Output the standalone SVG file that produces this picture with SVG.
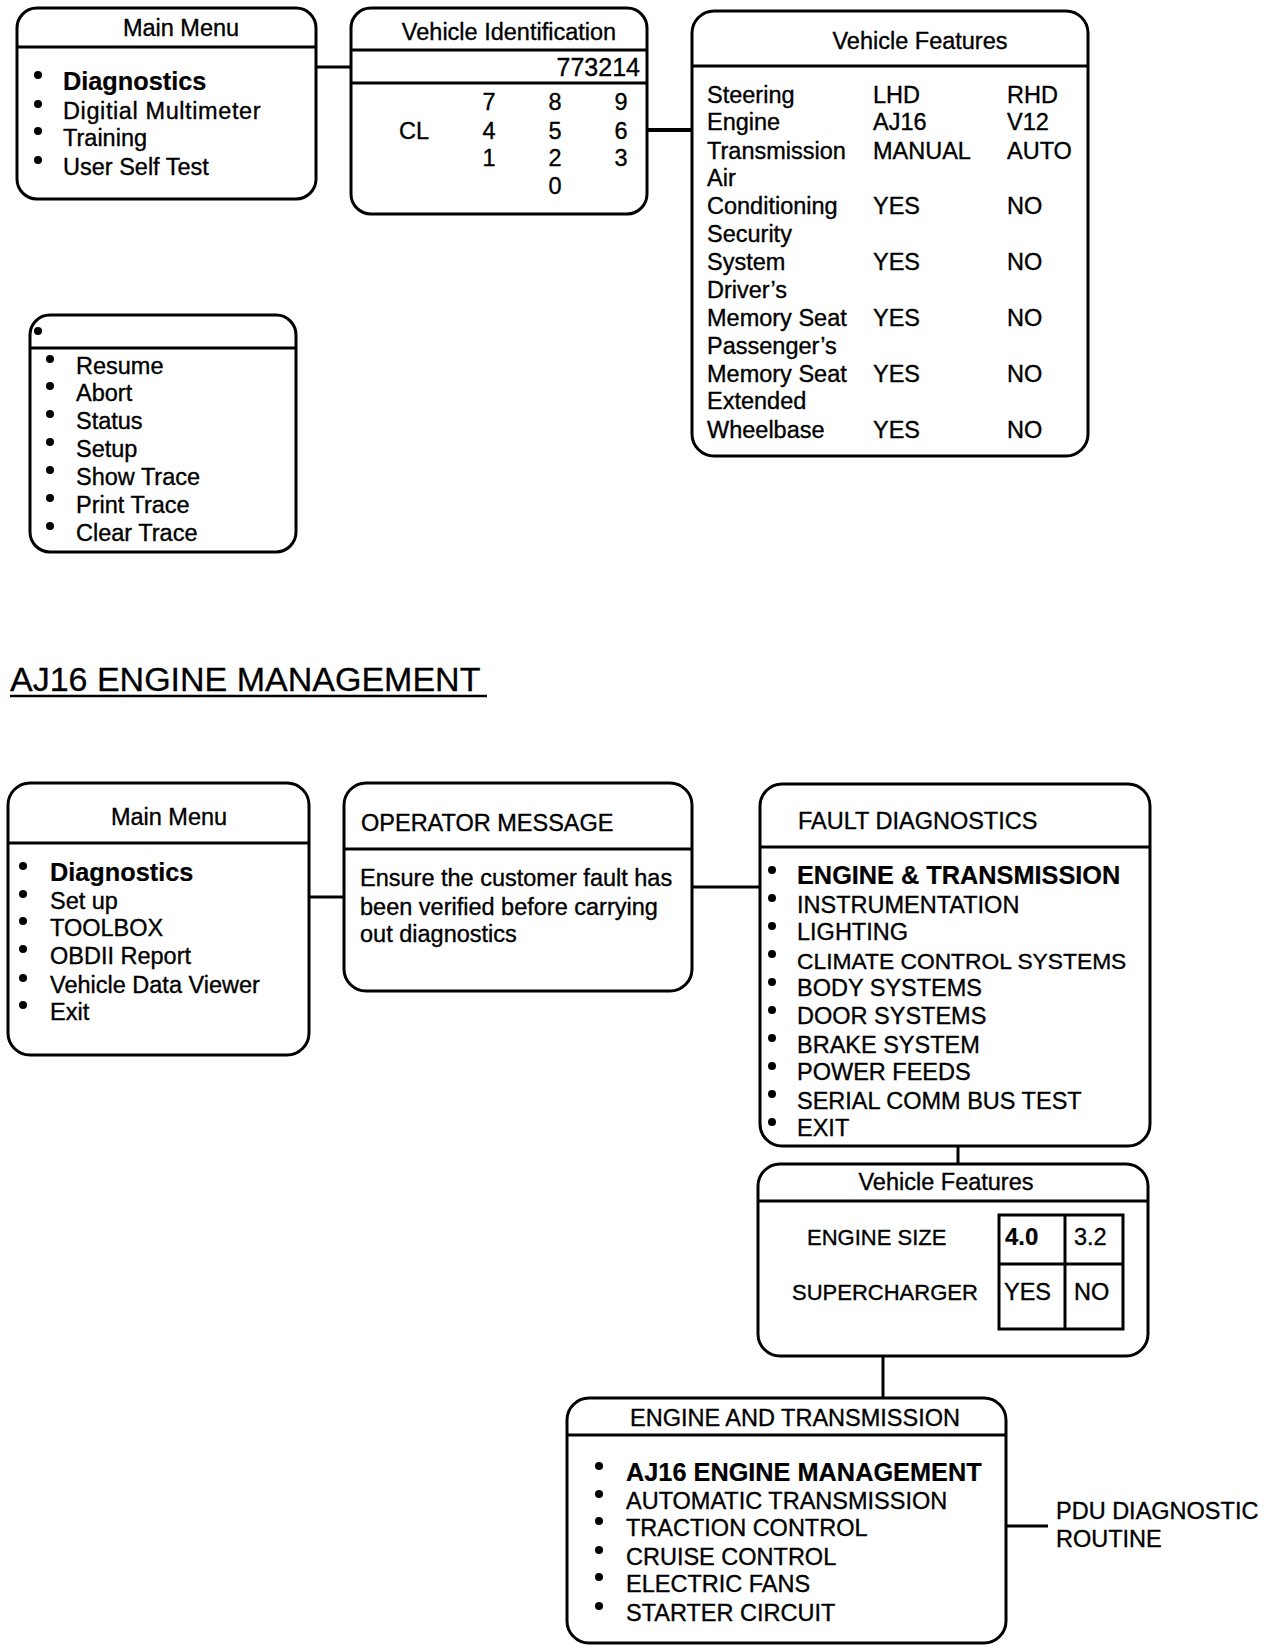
<svg xmlns="http://www.w3.org/2000/svg" width="1264" height="1652" viewBox="0 0 1264 1652">
<style>
.box{fill:#fff;stroke:#000;stroke-width:3}
.div{stroke:#000;stroke-width:3}
.con{stroke:#000;stroke-width:3;fill:none}
text{font-family:"Liberation Sans",Arial,sans-serif;font-size:23.5px;fill:#000;stroke:#000;stroke-width:0.35}
.b{font-weight:bold;font-size:25.3px;stroke-width:0.2}
.c{text-anchor:middle}
.e{text-anchor:end}
.big{font-size:34px;stroke-width:0.3}
.s{font-size:22px}
.dot{fill:#000}
</style>
<rect width="1264" height="1652" fill="#fff"/>
<g id="connectors">
<line class="con" x1="316" y1="67" x2="351" y2="67"/>
<line class="con" x1="647" y1="130" x2="692" y2="130" style="stroke-width:4"/>
<line class="con" x1="309" y1="897" x2="344" y2="897"/>
<line class="con" x1="692" y1="887" x2="760" y2="887"/>
<line class="con" x1="958" y1="1146" x2="958" y2="1164"/>
<line class="con" x1="883" y1="1356" x2="883" y2="1398"/>
<line class="con" x1="1006" y1="1526" x2="1048" y2="1526"/>
</g>
<g id="main-menu-1">
<rect class="box" x="17" y="8" width="299" height="191" rx="20"/>
<line class="div" x1="17" y1="47" x2="316" y2="47"/>
<text class="c" x="181" y="36">Main Menu</text>
<circle class="dot" cx="38" cy="75" r="4"/><text class="b" x="63" y="90">Diagnostics</text>
<circle class="dot" cx="38" cy="104" r="4"/><text x="63" y="119" style="letter-spacing:0.6px">Digitial Multimeter</text>
<circle class="dot" cx="38" cy="131" r="4"/><text x="63" y="146">Training</text>
<circle class="dot" cx="38" cy="160" r="4"/><text x="63" y="175">User Self Test</text>
</g>
<g id="vehicle-identification">
<rect class="box" x="351" y="8" width="296" height="206" rx="20"/>
<line class="div" x1="351" y1="50" x2="647" y2="50"/>
<line class="div" x1="351" y1="83" x2="647" y2="83"/>
<text class="c" x="509" y="40">Vehicle Identification</text>
<text class="e" x="640" y="76" style="font-size:25px">773214</text>
<text class="c" x="489" y="110">7</text><text class="c" x="555" y="110">8</text><text class="c" x="621" y="110">9</text>
<text class="c" x="414" y="139">CL</text><text class="c" x="489" y="139">4</text><text class="c" x="555" y="139">5</text><text class="c" x="621" y="139">6</text>
<text class="c" x="489" y="166">1</text><text class="c" x="555" y="166">2</text><text class="c" x="621" y="166">3</text>
<text class="c" x="555" y="194">0</text>
</g>
<g id="vehicle-features-1">
<rect class="box" x="692" y="11" width="396" height="445" rx="22"/>
<line class="div" x1="692" y1="66" x2="1088" y2="66"/>
<text class="c" x="920" y="49">Vehicle Features</text>
<text x="707" y="103">Steering</text><text x="873" y="103">LHD</text><text x="1007" y="103">RHD</text>
<text x="707" y="130">Engine</text><text x="873" y="130">AJ16</text><text x="1007" y="130">V12</text>
<text x="707" y="159">Transmission</text><text x="873" y="159">MANUAL</text><text x="1007" y="159">AUTO</text>
<text x="707" y="186">Air</text>
<text x="707" y="214">Conditioning</text><text x="873" y="214">YES</text><text x="1007" y="214">NO</text>
<text x="707" y="242">Security</text>
<text x="707" y="270">System</text><text x="873" y="270">YES</text><text x="1007" y="270">NO</text>
<text x="707" y="298">Driver’s</text>
<text x="707" y="326">Memory Seat</text><text x="873" y="326">YES</text><text x="1007" y="326">NO</text>
<text x="707" y="354">Passenger’s</text>
<text x="707" y="382">Memory Seat</text><text x="873" y="382">YES</text><text x="1007" y="382">NO</text>
<text x="707" y="409">Extended</text>
<text x="707" y="438">Wheelbase</text><text x="873" y="438">YES</text><text x="1007" y="438">NO</text>
</g>
<g id="trace-menu">
<rect class="box" x="30" y="315" width="266" height="237" rx="20"/>
<line class="div" x1="30" y1="348" x2="296" y2="348"/>
<circle class="dot" cx="38" cy="331" r="4"/>
<circle class="dot" cx="50" cy="359" r="4"/><text x="76" y="374">Resume</text>
<circle class="dot" cx="50" cy="386" r="4"/><text x="76" y="401">Abort</text>
<circle class="dot" cx="50" cy="414" r="4"/><text x="76" y="429">Status</text>
<circle class="dot" cx="50" cy="442" r="4"/><text x="76" y="457">Setup</text>
<circle class="dot" cx="50" cy="470" r="4"/><text x="76" y="485">Show Trace</text>
<circle class="dot" cx="50" cy="498" r="4"/><text x="76" y="513">Print Trace</text>
<circle class="dot" cx="50" cy="526" r="4"/><text x="76" y="541">Clear Trace</text>
</g>
<g id="section-title">
<text class="big" x="10" y="691">AJ16 ENGINE MANAGEMENT</text>
<line x1="10" y1="696" x2="487" y2="696" stroke="#000" stroke-width="2.5"/>
</g>
<g id="main-menu-2">
<rect class="box" x="8" y="783" width="301" height="272" rx="22"/>
<line class="div" x1="8" y1="843" x2="309" y2="843"/>
<text class="c" x="169" y="825">Main Menu</text>
<circle class="dot" cx="23" cy="866" r="4"/><text class="b" x="50" y="881">Diagnostics</text>
<circle class="dot" cx="23" cy="894" r="4"/><text x="50" y="909">Set up</text>
<circle class="dot" cx="23" cy="921" r="4"/><text x="50" y="936">TOOLBOX</text>
<circle class="dot" cx="23" cy="949" r="4"/><text x="50" y="964">OBDII Report</text>
<circle class="dot" cx="23" cy="978" r="4"/><text x="50" y="993">Vehicle Data Viewer</text>
<circle class="dot" cx="23" cy="1005" r="4"/><text x="50" y="1020">Exit</text>
</g>
<g id="operator-message">
<rect class="box" x="344" y="783" width="348" height="208" rx="22"/>
<line class="div" x1="344" y1="849" x2="692" y2="849"/>
<text x="361" y="831">OPERATOR MESSAGE</text>
<text x="360" y="886">Ensure the customer fault has</text>
<text x="360" y="915">been verified before carrying</text>
<text x="360" y="942">out diagnostics</text>
</g>
<g id="fault-diagnostics">
<rect class="box" x="760" y="784" width="390" height="362" rx="22"/>
<line class="div" x1="760" y1="847" x2="1150" y2="847"/>
<text x="798" y="829">FAULT DIAGNOSTICS</text>
<circle class="dot" cx="772" cy="870" r="4"/><text class="b" x="797" y="884">ENGINE &amp; TRANSMISSION</text>
<circle class="dot" cx="772" cy="898" r="4"/><text x="797" y="913">INSTRUMENTATION</text>
<circle class="dot" cx="772" cy="926" r="4"/><text x="797" y="940">LIGHTING</text>
<circle class="dot" cx="772" cy="954" r="4"/><text x="797" y="969" style="font-size:22.8px">CLIMATE CONTROL SYSTEMS</text>
<circle class="dot" cx="772" cy="982" r="4"/><text x="797" y="996">BODY SYSTEMS</text>
<circle class="dot" cx="772" cy="1010" r="4"/><text x="797" y="1024">DOOR SYSTEMS</text>
<circle class="dot" cx="772" cy="1038" r="4"/><text x="797" y="1053">BRAKE SYSTEM</text>
<circle class="dot" cx="772" cy="1066" r="4"/><text x="797" y="1080">POWER FEEDS</text>
<circle class="dot" cx="772" cy="1094" r="4"/><text x="797" y="1109">SERIAL COMM BUS TEST</text>
<circle class="dot" cx="772" cy="1122" r="4"/><text x="797" y="1136">EXIT</text>
</g>
<g id="vehicle-features-2">
<rect class="box" x="758" y="1164" width="390" height="192" rx="22"/>
<line class="div" x1="758" y1="1201" x2="1148" y2="1201"/>
<text class="c" x="946" y="1190">Vehicle Features</text>
<rect x="999" y="1215" width="124" height="114" fill="none" stroke="#000" stroke-width="3"/>
<line class="div" x1="1065" y1="1215" x2="1065" y2="1329"/>
<line class="div" x1="999" y1="1264" x2="1123" y2="1264"/>
<text class="s" x="807" y="1245">ENGINE SIZE</text>
<text class="s" x="792" y="1300">SUPERCHARGER</text>
<text class="b" x="1005" y="1245" style="font-size:24px">4.0</text>
<text x="1074" y="1245">3.2</text>
<text x="1004" y="1300">YES</text>
<text x="1074" y="1300">NO</text>
</g>
<g id="engine-and-transmission">
<rect class="box" x="567" y="1398" width="439" height="245" rx="22"/>
<line class="div" x1="567" y1="1435" x2="1006" y2="1435"/>
<text class="c" x="795" y="1426">ENGINE AND TRANSMISSION</text>
<circle class="dot" cx="599" cy="1466" r="4"/><text class="b" x="626" y="1481">AJ16 ENGINE MANAGEMENT</text>
<circle class="dot" cx="599" cy="1494" r="4"/><text x="626" y="1509">AUTOMATIC TRANSMISSION</text>
<circle class="dot" cx="599" cy="1521" r="4"/><text x="626" y="1536">TRACTION CONTROL</text>
<circle class="dot" cx="599" cy="1550" r="4"/><text x="626" y="1565">CRUISE CONTROL</text>
<circle class="dot" cx="599" cy="1577" r="4"/><text x="626" y="1592">ELECTRIC FANS</text>
<circle class="dot" cx="599" cy="1606" r="4"/><text x="626" y="1621">STARTER CIRCUIT</text>
</g>
<g id="pdu-routine">
<text x="1056" y="1519">PDU DIAGNOSTIC</text>
<text x="1056" y="1547">ROUTINE</text>
</g>
</svg>
